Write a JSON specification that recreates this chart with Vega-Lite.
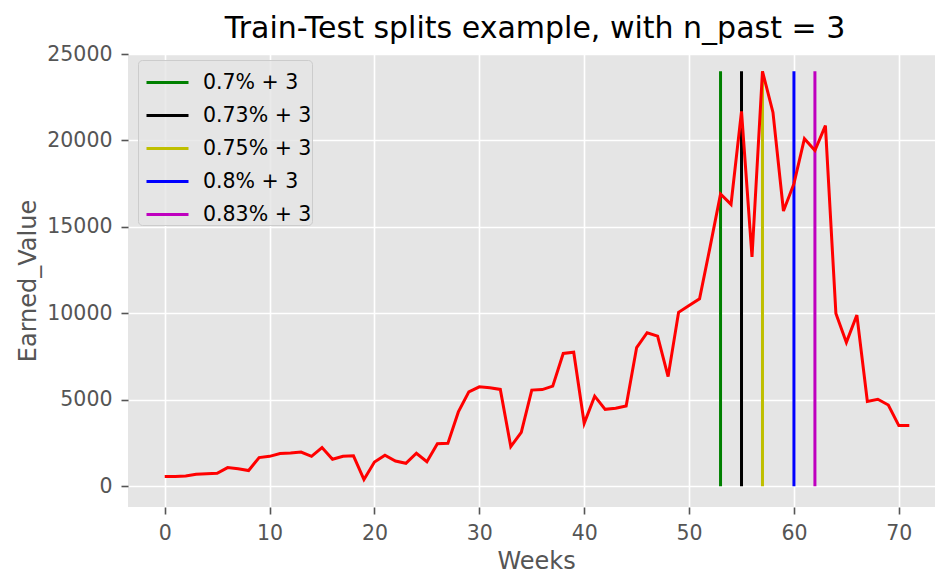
{
  "$schema": "https://vega.github.io/schema/vega-lite/v6.json",
  "width": 807,
  "height": 453,
  "autosize": {"type": "none"},
  "padding": {"left": 128, "top": 54, "right": 0, "bottom": 67},
  "background": "white",
  "title": {
    "text": "Train-Test splits example, with n_past = 3",
    "font": "DejaVu Sans",
    "fontSize": 30,
    "fontWeight": "normal",
    "color": "#000000",
    "anchor": "middle",
    "offset": 0,
    "dx": 3.5
  },
  "config": {
    "view": {"fill": "#E5E5E5", "stroke": null},
    "font": "DejaVu Sans",
    "axis": {
      "grid": true,
      "gridColor": "#FFFFFF",
      "gridWidth": 1.6,
      "domain": false,
      "tickColor": "#555555",
      "tickSize": 7,
      "tickWidth": 1.6,
      "labelColor": "#555555",
      "labelFont": "DejaVu Sans",
      "labelFontSize": 20.5,
      "labelPadding": 9,
      "labelFlush": false,
      "labelOverlap": false,
      "titleColor": "#555555",
      "titleFont": "DejaVu Sans",
      "titleFontSize": 24,
      "titleFontWeight": "normal"
    }
  },
  "datasets": {
    "series": [
      {"Weeks": 0, "Earned_Value": 560},
      {"Weeks": 1, "Earned_Value": 570},
      {"Weeks": 2, "Earned_Value": 590},
      {"Weeks": 3, "Earned_Value": 690},
      {"Weeks": 4, "Earned_Value": 730},
      {"Weeks": 5, "Earned_Value": 750},
      {"Weeks": 6, "Earned_Value": 1080},
      {"Weeks": 7, "Earned_Value": 1010},
      {"Weeks": 8, "Earned_Value": 910},
      {"Weeks": 9, "Earned_Value": 1660},
      {"Weeks": 10, "Earned_Value": 1730},
      {"Weeks": 11, "Earned_Value": 1890},
      {"Weeks": 12, "Earned_Value": 1920},
      {"Weeks": 13, "Earned_Value": 1980},
      {"Weeks": 14, "Earned_Value": 1730},
      {"Weeks": 15, "Earned_Value": 2240},
      {"Weeks": 16, "Earned_Value": 1560},
      {"Weeks": 17, "Earned_Value": 1730},
      {"Weeks": 18, "Earned_Value": 1760},
      {"Weeks": 19, "Earned_Value": 390},
      {"Weeks": 20, "Earned_Value": 1400},
      {"Weeks": 21, "Earned_Value": 1790},
      {"Weeks": 22, "Earned_Value": 1460},
      {"Weeks": 23, "Earned_Value": 1330},
      {"Weeks": 24, "Earned_Value": 1910},
      {"Weeks": 25, "Earned_Value": 1420},
      {"Weeks": 26, "Earned_Value": 2460},
      {"Weeks": 27, "Earned_Value": 2480},
      {"Weeks": 28, "Earned_Value": 4300},
      {"Weeks": 29, "Earned_Value": 5460},
      {"Weeks": 30, "Earned_Value": 5750},
      {"Weeks": 31, "Earned_Value": 5700},
      {"Weeks": 32, "Earned_Value": 5600},
      {"Weeks": 33, "Earned_Value": 2290},
      {"Weeks": 34, "Earned_Value": 3120},
      {"Weeks": 35, "Earned_Value": 5560},
      {"Weeks": 36, "Earned_Value": 5590},
      {"Weeks": 37, "Earned_Value": 5790},
      {"Weeks": 38, "Earned_Value": 7680},
      {"Weeks": 39, "Earned_Value": 7750},
      {"Weeks": 40, "Earned_Value": 3640},
      {"Weeks": 41, "Earned_Value": 5210},
      {"Weeks": 42, "Earned_Value": 4450},
      {"Weeks": 43, "Earned_Value": 4510},
      {"Weeks": 44, "Earned_Value": 4640},
      {"Weeks": 45, "Earned_Value": 8020},
      {"Weeks": 46, "Earned_Value": 8880},
      {"Weeks": 47, "Earned_Value": 8680},
      {"Weeks": 48, "Earned_Value": 6340},
      {"Weeks": 49, "Earned_Value": 10060},
      {"Weeks": 50, "Earned_Value": 10460},
      {"Weeks": 51, "Earned_Value": 10840},
      {"Weeks": 52, "Earned_Value": 13830},
      {"Weeks": 53, "Earned_Value": 16900},
      {"Weeks": 54, "Earned_Value": 16300},
      {"Weeks": 55, "Earned_Value": 21680},
      {"Weeks": 56, "Earned_Value": 13260},
      {"Weeks": 57, "Earned_Value": 24000},
      {"Weeks": 58, "Earned_Value": 21620},
      {"Weeks": 59, "Earned_Value": 15920},
      {"Weeks": 60, "Earned_Value": 17500},
      {"Weeks": 61, "Earned_Value": 20100},
      {"Weeks": 62, "Earned_Value": 19420},
      {"Weeks": 63, "Earned_Value": 20860},
      {"Weeks": 64, "Earned_Value": 9990},
      {"Weeks": 65, "Earned_Value": 8320},
      {"Weeks": 66, "Earned_Value": 9900},
      {"Weeks": 67, "Earned_Value": 4900},
      {"Weeks": 68, "Earned_Value": 5030},
      {"Weeks": 69, "Earned_Value": 4700},
      {"Weeks": 70, "Earned_Value": 3510},
      {"Weeks": 71, "Earned_Value": 3510}
    ],
    "splits": [
      {"Weeks": 53, "ymin": 0, "ymax": 24000, "label": "0.7% + 3"},
      {"Weeks": 55, "ymin": 0, "ymax": 24000, "label": "0.73% + 3"},
      {"Weeks": 57, "ymin": 0, "ymax": 24000, "label": "0.75% + 3"},
      {"Weeks": 60, "ymin": 0, "ymax": 24000, "label": "0.8% + 3"},
      {"Weeks": 62, "ymin": 0, "ymax": 24000, "label": "0.83% + 3"}
    ]
  },
  "layer": [
    {
      "data": {"name": "splits"},
      "mark": {"type": "rule", "strokeWidth": 3},
      "encoding": {
        "x": {
          "field": "Weeks",
          "type": "quantitative",
          "scale": {"domain": [-3.5, 73.45], "nice": false, "zero": false},
          "axis": {"title": "Weeks", "values": [0, 10, 20, 30, 40, 50, 60, 70], "format": "d", "titlePadding": 6, "titleX": 408}
        },
        "y": {
          "field": "ymin",
          "type": "quantitative",
          "scale": {"domain": [-1200, 25000], "nice": false, "zero": false},
          "axis": {"title": "Earned_Value", "values": [0, 5000, 10000, 15000, 20000, 25000], "format": "d", "titlePadding": 6}
        },
        "y2": {"field": "ymax"},
        "color": {
          "field": "label",
          "type": "nominal",
          "scale": {
            "domain": ["0.7% + 3", "0.73% + 3", "0.75% + 3", "0.8% + 3", "0.83% + 3"],
            "range": ["#008000", "#000000", "#BFBF00", "#0000FF", "#BF00BF"]
          },
          "legend": {
            "title": null,
            "orient": "none",
            "legendX": 10,
            "legendY": 6,
            "fillColor": "rgba(229,229,229,0.8)",
            "strokeColor": "#CCCCCC",
            "cornerRadius": 4,
            "padding": 0,
            "symbolOffset": 7,
            "symbolType": "stroke",
            "symbolSize": 1764,
            "symbolStrokeWidth": 3,
            "labelFont": "DejaVu Sans",
            "labelFontSize": 20.5,
            "labelColor": "#000000",
            "rowPadding": -2,
            "labelOffset": 13
          }
        }
      }
    },
    {
      "data": {"name": "series"},
      "mark": {"type": "line", "color": "#FF0000", "strokeWidth": 3},
      "encoding": {
        "x": {"field": "Weeks", "type": "quantitative"},
        "y": {"field": "Earned_Value", "type": "quantitative"}
      }
    }
  ]
}
